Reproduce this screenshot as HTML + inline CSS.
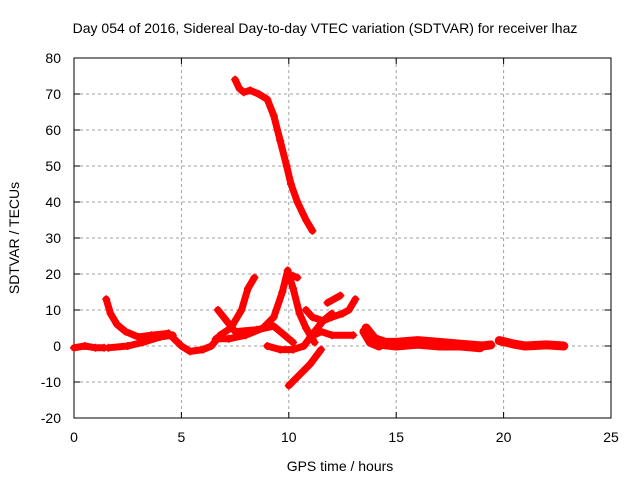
<!DOCTYPE html>
<html><head><meta charset="utf-8"><style>
html,body{margin:0;padding:0;background:#fff}
svg{display:block;font-family:"Liberation Sans",sans-serif}
</style></head><body>
<svg id="chart" width="640" height="480">
<rect x="0" y="0" width="640" height="480" fill="#fff"/>
<g id="grid"></g><g id="axes"></g><g id="series"></g>
<text x="325" y="33" font-size="14" text-anchor="middle">Day 054 of 2016, Sidereal Day-to-day VTEC variation (SDTVAR) for receiver lhaz</text>
<text x="340" y="471" font-size="14" text-anchor="middle">GPS time / hours</text>
<text transform="translate(19,238) rotate(-90)" font-size="14" text-anchor="middle">SDTVAR / TECUs</text>
</svg>
<script>
const xTicks=[0,5,10,15,20,25];
const yTicks=[-20,-10,0,10,20,30,40,50,60,70,80];
const trackBig=[[7.5,74],[7.7,71.5],[7.9,70.5],[8.2,71],[8.6,70],[9.0,68.5],[9.3,64],[9.6,57],[9.9,50],[10.1,45],[10.4,40],[10.8,35],[11.1,32]];
const trackA=[[0,-0.5],[0.5,0],[1.0,-0.5],[1.4,-0.5]];
const trackB=[[1.6,-0.5],[2.5,0],[3.2,1],[4,2.5],[4.6,3]];
const trackC=[[1.5,13],[1.7,9],[2.0,6],[2.4,4],[3,2.5],[3.6,3],[4.4,3.5],[5,0],[5.4,-1.5],[6,-1],[6.4,0],[6.8,3],[7.3,5],[7.8,10],[8.1,16],[8.4,19]];
const trackD=[[6.6,2],[7.2,2],[8,3],[8.8,5],[9.3,8],[9.7,15],[9.95,21],[10.2,16],[10.5,9],[10.8,5],[11.2,1]];
const trackE=[[6.7,10],[7.1,7],[7.5,4],[8.5,4.5],[9.3,5.5],[9.8,3],[10.2,1]];
const trackF=[[9.0,0],[9.6,-1],[10.2,-1],[10.7,0],[11.2,4],[11.6,7],[12,9]];
const trackG=[[10.0,-11],[10.5,-8],[11,-5],[11.5,-1]];
const trackH=[[10.8,10],[11.1,8],[11.6,7],[12,8],[12.5,9],[12.8,10],[13.1,13]];
const trackI=[[11.8,12],[12.4,14]];
const trackJ=[[11,2.5],[11.5,4],[12,3],[13,3]];
const trackK=[[10.2,19.5],[10.4,19]];
const trackL=[[13.6,5],[14,2],[14.5,1],[15,1],[16,1.5],[17,1],[18,0.5],[19,0],[19.4,0.3]];
const trackM=[[13.5,4],[13.8,1],[14.2,0]];
const trackN=[[19.8,1.5],[20.5,0.5],[21,0],[22,0.3],[22.8,0]];
const trackO=[[14.2,0.5],[15,0],[16,0.5],[17,0],[18,0],[18.9,-0.5]];
const thinTracks=[trackBig,trackA,trackB,trackC,trackD,trackE,trackF,trackG,trackH,trackI,trackJ,trackK];
const thickTracks=[trackL,trackM,trackN,trackO];

const X=t=>74+t*(611-74)/25;
const Y=v=>346-v*3.6;
const NS="http://www.w3.org/2000/svg";
function mk(tag,attrs,parent){const e=document.createElementNS(NS,tag);for(const k in attrs)e.setAttribute(k,attrs[k]);parent.appendChild(e);return e;}
const grid=document.getElementById('grid'),axes=document.getElementById('axes'),ser=document.getElementById('series');
xTicks.forEach(t=>{
  if(t>0&&t<25){const l=mk('line',{x1:X(t),x2:X(t),y1:58,y2:418,stroke:'#a0a0a0','stroke-dasharray':'3,3'},grid);
  
  }
  const tx=mk('text',{x:X(t),y:442,'font-size':14,'text-anchor':'middle'},axes);tx.textContent=t;
  
  
  mk('line',{x1:X(t),x2:X(t),y1:418,y2:412,stroke:'#000'},axes);mk('line',{x1:X(t),x2:X(t),y1:58,y2:64,stroke:'#000'},axes);
});
yTicks.forEach(v=>{
  if(v>-20&&v<80){const l=mk('line',{x1:74,x2:611,y1:Y(v),y2:Y(v),stroke:'#a0a0a0','stroke-dasharray':'3,3'},grid);
  
  }
  const tx=mk('text',{x:61,y:Y(v)+5,'font-size':14,'text-anchor':'end'},axes);tx.textContent=v;
  
  
  mk('line',{x1:74,x2:80,y1:Y(v),y2:Y(v),stroke:'#000'},axes);mk('line',{x1:605,x2:611,y1:Y(v),y2:Y(v),stroke:'#000'},axes);
});
const fr=mk('rect',{x:74,y:58,width:537,height:360,fill:'none',stroke:'#000'},axes);


function draw(tr,w){
  const p=mk('polyline',{points:tr.map(d=>X(d[0])+','+Y(d[1])).join(' '),fill:'none',stroke:'#f00','stroke-width':w,'stroke-linejoin':'round','stroke-linecap':'round'},ser);
  
  
  tr.forEach(d=>{
    const m=mk('path',{d:`M${X(d[0])-4},${Y(d[1])}h8M${X(d[0])},${Y(d[1])-4}v8`,stroke:'#f00','stroke-width':1.5},ser);
    
    
  });
}
thinTracks.forEach(tr=>draw(tr,7));
thickTracks.forEach(tr=>draw(tr,9));
</script>
</body></html>
